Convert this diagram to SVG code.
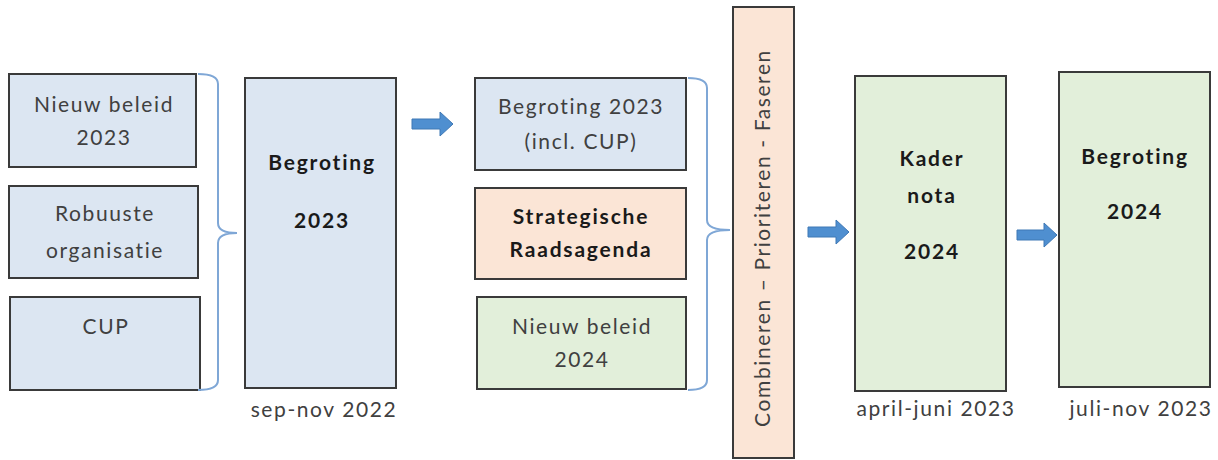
<svg xmlns="http://www.w3.org/2000/svg" width="1218" height="460" viewBox="0 0 1218 460">
<style>
.box{stroke:#3a3a3a;stroke-width:2}
.blue{fill:#dce6f2}
.peach{fill:#fbe5d6}
.green{fill:#e2efda}
.t{font-family:Lato,"Liberation Sans",sans-serif;font-size:21px;letter-spacing:1.6px;fill:#404040;text-anchor:middle}
.b{font-weight:bold;fill:#1a1a1a;letter-spacing:1.8px}
.cap{font-family:Lato,"Liberation Sans",sans-serif;font-size:21px;letter-spacing:1.6px;fill:#404040;text-anchor:middle}
.brace{fill:none;stroke:#7fa7d6;stroke-width:2}
.arrow{fill:#4f8fd0;stroke:#3f78b5;stroke-width:1}
</style>
<rect width="1218" height="460" fill="#fff"/>
<g id="n-nieuw2023"><rect class="box blue" x="9" y="74" width="187" height="93"/><text class="t" x="104" y="112">Nieuw beleid</text><text class="t" x="104" y="145">2023</text></g>
<g id="n-robuuste"><rect class="box blue" x="9" y="186" width="189" height="92"/><text class="t" x="105" y="221">Robuuste</text><text class="t" x="105" y="258">organisatie</text></g>
<g id="n-cup"><rect class="box blue" x="10" y="297" width="190" height="93"/><text class="t" x="106" y="334">CUP</text></g>
<g id="n-begroting2023"><rect class="box blue" x="245" y="78" width="151" height="310"/><text class="t b" x="322" y="170">Begroting</text><text class="t b" x="322" y="228">2023</text><text class="cap" x="324" y="417">sep-nov 2022</text></g>
<g id="n-begr2023cup"><rect class="box blue" x="475" y="78" width="211" height="92"/><text class="t" x="581" y="114">Begroting 2023</text><text class="t" x="581" y="149">(incl. CUP)</text></g>
<g id="n-strategische"><rect class="box peach" x="475" y="188" width="211" height="91"/><text class="t b" x="581" y="224">Strategische</text><text class="t b" x="581" y="257">Raadsagenda</text></g>
<g id="n-nieuw2024"><rect class="box green" x="477" y="297" width="209" height="92"/><text class="t" x="582" y="334">Nieuw beleid</text><text class="t" x="582" y="367">2024</text></g>
<g id="n-combineren"><rect class="box peach" x="733" y="7" width="61" height="451"/><text class="t" transform="translate(770,239) rotate(-90)" x="1" y="0">Combineren – Prioriteren - Faseren</text></g>
<g id="n-kadernota"><rect class="box green" x="855" y="76" width="151" height="315"/><text class="t b" x="932" y="166">Kader</text><text class="t b" x="932" y="203">nota</text><text class="t b" x="932" y="259">2024</text><text class="cap" x="936" y="416">april-juni 2023</text></g>
<g id="n-begroting2024"><rect class="box green" x="1059" y="72" width="151" height="315"/><text class="t b" x="1135" y="164">Begroting</text><text class="t b" x="1135" y="219">2024</text><text class="cap" x="1141" y="416">juli-nov 2023</text></g>
<g id="connectors">
<path class="brace" d="M198,74 Q218,74 218,84 L218,223 Q218,233 237,233 Q218,233 218,243 L218,380 Q218,390 198,390"/>
<path class="brace" d="M688,78 Q707,78 707,88 L707,220 Q707,230 730,230 Q707,230 707,240 L707,380 Q707,390 688,390"/>
<path class="arrow" d="M412,119 L440,119 L440,112 L453,124 L440,136 L440,129 L412,129 Z"/>
<path class="arrow" d="M808,227 L836,227 L836,220 L849,232 L836,244 L836,237 L808,237 Z"/>
<path class="arrow" d="M1017,230 L1044,230 L1044,223 L1057,235 L1044,247 L1044,240 L1017,240 Z"/>
</g>
</svg>
